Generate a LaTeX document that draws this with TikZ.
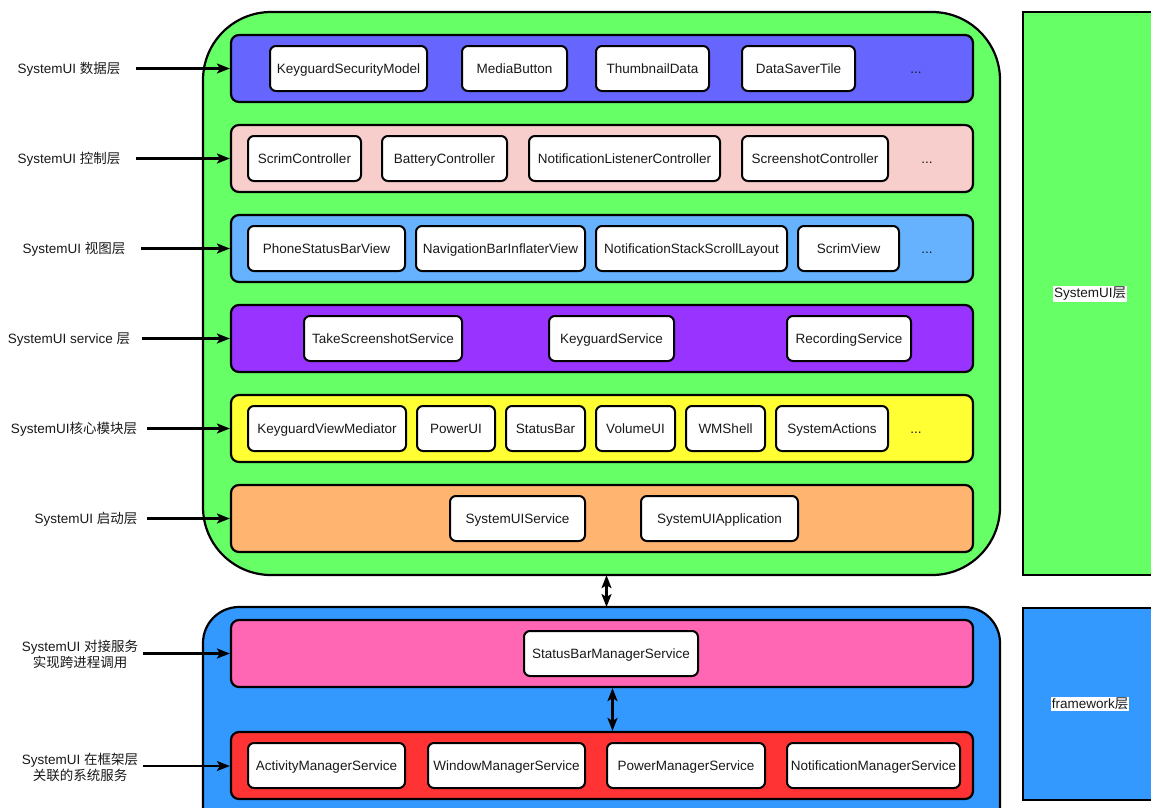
\documentclass[tikz,border=0pt]{standalone}
\usepackage{fontspec}
\setmainfont{Liberation Sans}
\newfontfamily\cjk{Noto Sans CJK SC}
\usetikzlibrary{arrows.meta,calc}
\definecolor{cgreen}{HTML}{66FF66}
\definecolor{cblue}{HTML}{3399FF}
\definecolor{cdata}{HTML}{6666FF}
\definecolor{cctrl}{HTML}{F8CECC}
\definecolor{cview}{HTML}{66B2FF}
\definecolor{cserv}{HTML}{9933FF}
\definecolor{ccore}{HTML}{FFFF33}
\definecolor{cboot}{HTML}{FFB570}
\definecolor{cpink}{HTML}{FF66B3}
\definecolor{cred}{HTML}{FF3333}
\begin{document}
\begin{tikzpicture}[x=1pt,y=-1pt,
  every node/.style={font=\fontsize{13.5}{16}\selectfont, text=black!90},
  layer/.style={draw, line width=2.2pt, rounded corners=8pt, minimum width=742pt, minimum height=67pt, inner sep=0pt},
  ibox/.style={draw, line width=2pt, fill=white, rounded corners=6pt, minimum height=45pt, inner sep=0pt, text height=11pt, text depth=1pt},
  llabel/.style={align=center, inner sep=0pt},
  rlabel/.style={fill=white, inner sep=1pt, font=\fontsize{13.5}{16}\selectfont},
  dots/.style={text height=11pt, text depth=1pt, inner sep=0pt},
  arr/.style={-{Stealth[length=13pt,width=10pt,inset=3pt]}, line width=2.2pt},
  darr/.style={{Stealth[length=13pt,width=10pt,inset=3pt]}-{Stealth[length=13pt,width=10pt,inset=3pt]}, line width=2.2pt}
]
\useasboundingbox (0,0) rectangle (1151,807);
\fill[white] (0,0) rectangle (1151,807);

% outer containers
\draw[line width=2.2pt, fill=cgreen, rounded corners=68pt] (203,12) rectangle (1000,575);
\node[minimum width=797pt, minimum height=563pt, inner sep=0pt] (G) at (601.5,293.5) {};
\draw[line width=2.2pt, fill=cblue, rounded corners=36pt] (203,607) rectangle (1000,850);
\node[minimum width=797pt, minimum height=1pt, inner sep=0pt, anchor=north] (B) at (601.5,607) {};

% right side blocks
\draw[line width=2.2pt, fill=cgreen] (1023,12) rectangle (1190,575);
\node[rlabel] (RG) at (1090,294) {SystemUI{\cjk 层}};
\draw[line width=2.2pt, fill=cblue] (1023,608) rectangle (1190,800);
\node[rlabel] (RB) at (1090,704) {framework{\cjk 层}};

% layers
\node[layer, fill=cdata] (L1) at (602,68.5) {};
\node[layer, fill=cctrl] (L2) at (602,158.5) {};
\node[layer, fill=cview] (L3) at (602,248.5) {};
\node[layer, fill=cserv] (L4) at (602,338.5) {};
\node[layer, fill=ccore] (L5) at (602,428.5) {};
\node[layer, fill=cboot] (L6) at (602,518.5) {};
\node[layer, fill=cpink] (L7) at (602,653.5) {};
\node[layer, fill=cred]  (L8) at (602,765.5) {};

% data layer
\node[ibox, minimum width=157pt] (b11) at (348.5,68.5) {KeyguardSecurityModel};
\node[ibox, minimum width=105pt] (b12) at (514.5,68.5) {MediaButton};
\node[ibox, minimum width=113pt] (b13) at (652.5,68.5) {ThumbnailData};
\node[ibox, minimum width=113pt] (b14) at (798.5,68.5) {DataSaverTile};
\node[dots] (d1) at (916,68.5) {...};

% control layer
\node[ibox, minimum width=113pt] (b21) at (304.5,158.5) {ScrimController};
\node[ibox, minimum width=125pt] (b22) at (444.5,158.5) {BatteryController};
\node[ibox, minimum width=191pt] (b23) at (624.5,158.5) {NotificationListenerController};
\node[ibox, minimum width=146pt] (b24) at (815,158.5) {ScreenshotController};
\node[dots] (d2) at (927,158.5) {...};

% view layer
\node[ibox, minimum width=157pt] (b31) at (326.5,248.5) {PhoneStatusBarView};
\node[ibox, minimum width=169pt] (b32) at (500.5,248.5) {NavigationBarInflaterView};
\node[ibox, minimum width=191pt] (b33) at (691.5,248.5) {NotificationStackScrollLayout};
\node[ibox, minimum width=101pt] (b34) at (848.5,248.5) {ScrimView};
\node[dots] (d3) at (927,248.5) {...};

% service layer
\node[ibox, minimum width=158pt] (b41) at (383,338.5) {TakeScreenshotService};
\node[ibox, minimum width=125pt] (b42) at (611.5,338.5) {KeyguardService};
\node[ibox, minimum width=124pt] (b43) at (849,338.5) {RecordingService};

% core layer
\node[ibox, minimum width=158pt] (b51) at (327,428.5) {KeyguardViewMediator};
\node[ibox, minimum width=78pt] (b52) at (456,428.5) {PowerUI};
\node[ibox, minimum width=79pt] (b53) at (545.5,428.5) {StatusBar};
\node[ibox, minimum width=79pt] (b54) at (635.5,428.5) {VolumeUI};
\node[ibox, minimum width=79pt] (b55) at (725.5,428.5) {WMShell};
\node[ibox, minimum width=112pt] (b56) at (832,428.5) {SystemActions};
\node[dots] (d5) at (916,428.5) {...};

% boot layer
\node[ibox, minimum width=135pt] (b61) at (517.5,518.5) {SystemUIService};
\node[ibox, minimum width=157pt] (b62) at (719.5,518.5) {SystemUIApplication};

% framework
\node[ibox, minimum width=174pt] (b71) at (611,653.5) {StatusBarManagerService};
\node[ibox, minimum width=157pt] (b81) at (326.5,765.5) {ActivityManagerService};
\node[ibox, minimum width=157pt] (b82) at (506.5,765.5) {WindowManagerService};
\node[ibox, minimum width=158pt] (b83) at (686,765.5) {PowerManagerService};
\node[ibox, minimum width=173pt] (b84) at (873.5,765.5) {NotificationManagerService};

% left labels
\node[llabel] (T1) at (69,69.5) {SystemUI {\cjk 数据层}};
\node[llabel] (T2) at (69,159.5) {SystemUI {\cjk 控制层}};
\node[llabel] (T3) at (74,249.5) {SystemUI {\cjk 视图层}};
\node[llabel] (T4) at (69,339.5) {SystemUI service {\cjk 层}};
\node[llabel] (T5) at (74,429.5) {SystemUI{\cjk 核心模块层}};
\node[llabel] (T6) at (86,519.5) {SystemUI {\cjk 启动层}};
\node[llabel] (T7) at (80,654.5) {SystemUI {\cjk 对接服务}\\{\cjk 实现跨进程调用}};
\node[llabel] (T8) at (80,767) {SystemUI {\cjk 在框架层}\\{\cjk 关联的系统服务}};

\coordinate (a1) at (136,68.5);
\coordinate (a2) at (136,158.5);
\coordinate (a3) at (141,248.5);
\coordinate (a4) at (142,338.5);
\coordinate (a5) at (147,428.5);
\coordinate (a6) at (147,518.5);
\coordinate (a7) at (143,653.5);
\coordinate (a8) at (143,766);
\foreach \i in {1,...,8} { \draw[arr] (a\i) -- (L\i.west |- a\i); }

% double arrows
\draw[darr] ([xshift=5pt]G.south) -- ([xshift=5pt]G.south |- B.north);
\draw[darr] ([xshift=1.5pt]b71.south |- L7.south) -- ([xshift=1.5pt]b71.south |- L8.north);
\end{tikzpicture}
\end{document}
